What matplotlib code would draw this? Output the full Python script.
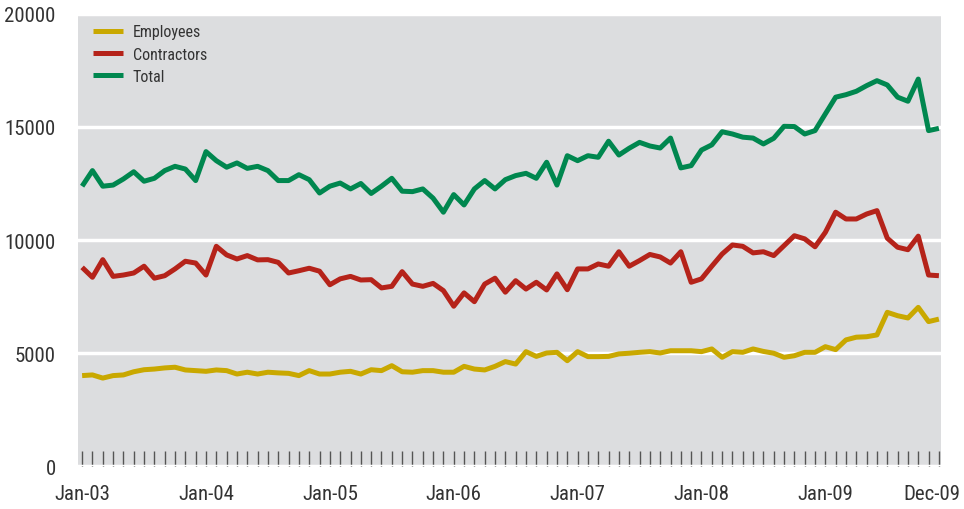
import matplotlib.pyplot as plt
import matplotlib.transforms as mtransforms
from matplotlib import font_manager

# prefer a condensed sans if one is installed
names = {f.name for f in font_manager.fontManager.ttflist}
narrow = [n for n in ['Liberation Sans Narrow', 'DejaVu Sans Condensed', 'Roboto Condensed',
                      'Open Sans Condensed'] if n in names]
plt.rcParams['font.family'] = narrow + ['DejaVu Sans']
plt.rcParams['font.stretch'] = 'condensed'

# monthly headcount, Jan-03 .. Dec-09
employees = [
    4000, 4030, 3890, 4000, 4030, 4170, 4260, 4290, 4340, 4370, 4250, 4220,
    4190, 4250, 4220, 4070, 4150, 4070, 4150, 4120, 4100, 4000, 4220, 4070,
    4070, 4150, 4190, 4070, 4260, 4220, 4440, 4170, 4150, 4220, 4220, 4150,
    4150, 4410, 4290, 4250, 4410, 4620, 4510, 5060, 4850, 5000, 5030, 4660,
    5060, 4840, 4840, 4850, 4960, 4990, 5030, 5060, 5000, 5100, 5100, 5100,
    5060, 5180, 4810, 5060, 5030, 5180, 5070, 4990, 4810, 4880, 5030, 5030,
    5280, 5150, 5580, 5700, 5720, 5800, 6800, 6650, 6550, 7020, 6390, 6500,
]
contractors = [
    8790, 8350, 9130, 8390, 8450, 8540, 8840, 8310, 8420, 8720, 9060, 8980,
    8450, 9720, 9340, 9160, 9310, 9120, 9130, 9010, 8540, 8640, 8750, 8620,
    8020, 8280, 8390, 8230, 8245, 7880, 7950, 8600, 8050, 7950, 8080, 7760,
    7070, 7660, 7270, 8050, 8310, 7690, 8200, 7830, 8130, 7790, 8500, 7800,
    8720, 8720, 8940, 8840, 9480, 8840, 9090, 9360, 9250, 8980, 9480, 8130,
    8280, 8840, 9380, 9780, 9720, 9430, 9480, 9310, 9750, 10190, 10050, 9700,
    10340, 11230, 10930, 10930, 11150, 11300, 10080, 9680, 9570, 10170, 8450, 8420,
]
total = [
    12380, 13070, 12380, 12430, 12700, 13020, 12600, 12730, 13070, 13260, 13140, 12630,
    13910, 13510, 13220, 13410, 13170, 13260, 13070, 12630, 12630, 12890, 12670, 12080,
    12380, 12520, 12260, 12500, 12060, 12380, 12730, 12160, 12140, 12260, 11850, 11230,
    12010, 11550, 12260, 12630, 12260, 12670, 12850, 12950, 12730, 13440, 12430, 13730,
    13510, 13730, 13660, 14370, 13760, 14060, 14320, 14160, 14070, 14510, 13190, 13290,
    13980, 14210, 14790, 14690, 14550, 14510, 14250, 14500, 15030, 15020, 14690, 14840,
    15580, 16320, 16430, 16580, 16830, 17050, 16860, 16320, 16140, 17120, 14840, 14940,
]
tick_months = [0, 12, 24, 36, 48, 60, 72, 83]
tick_labels = ['Jan-03', 'Jan-04', 'Jan-05', 'Jan-06', 'Jan-07', 'Jan-08', 'Jan-09', 'Dec-09']
y_ticks = [0, 5000, 10000, 15000, 20000]

months = list(range(len(total)))

fig = plt.figure(figsize=(9.64, 5.10), dpi=100)
ax = fig.add_axes([0.0809, 0.0843, 0.8952, 0.8863])
ax.set_facecolor('#dcdddf')

for vals, color, label in [(employees, '#c9a800', 'Employees'),
                           (contractors, '#b5231a', 'Contractors'),
                           (total, '#00874f', 'Total')]:
    ax.plot(months, vals, color=color, lw=3.6, label=label,
            solid_joinstyle='round', solid_capstyle='butt', zorder=3)

ax.set_xlim(-0.4, 83.2)
ax.set_ylim(0, 20000)

ax.set_yticks(y_ticks)
ax.set_yticklabels([str(v) for v in y_ticks])
ax.yaxis.grid(True, color='white', lw=2.5)
ax.set_axisbelow(True)
ax.tick_params(axis='y', length=0, pad=16, labelsize=15, labelcolor='#333333')

ax.set_xticks(tick_months)
ax.set_xticklabels(tick_labels)
ax.set_xticks(months, minor=True)
ax.tick_params(axis='x', which='both', direction='in', length=11, width=1,
               color='#555555', pad=13, labelsize=15, labelcolor='#333333')

# pull the last date label in from the right edge
last = ax.get_xticklabels()[-1]
last.set_transform(last.get_transform() +
                   mtransforms.ScaledTranslation(-7 / 100, 0, fig.dpi_scale_trans))

for sp in ax.spines.values():
    sp.set_visible(False)

leg = ax.legend(loc='upper left', frameon=False, fontsize=11.5,
                handlelength=1.9, handletextpad=0.6, labelspacing=0.45,
                borderaxespad=0.25, bbox_to_anchor=(0.005, 1.0))
for t in leg.get_texts():
    t.set_color('#333333')

fig.savefig('out.png', dpi=100)
